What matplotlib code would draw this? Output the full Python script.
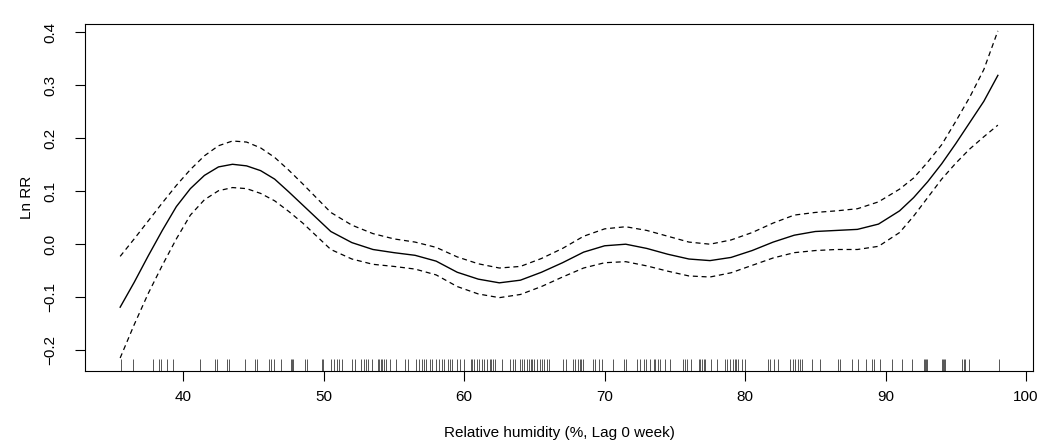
import numpy as np
import matplotlib
matplotlib.use('Agg')
import matplotlib.pyplot as plt

plt.rcParams['font.family'] = ['Liberation Sans', 'DejaVu Sans']

# relative humidity grid and fitted ln RR with 95% CI
rh = [35.5, 36.5, 37.5, 38.5, 39.5, 40.5, 41.5, 42.5, 43.5, 44.5,
      45.5, 46.5, 47.5, 48.5, 49.5, 50.5, 52, 53.5, 55, 56.5,
      58, 59.5, 61, 62.5, 64, 65.5, 67, 68.5, 70, 71.5,
      73, 74.5, 76, 77.5, 79, 80.5, 82, 83.5, 85, 86.5,
      88, 89.5, 91, 92, 93, 94, 95, 96, 97, 98]
ln_rr = [-0.119, -0.072, -0.022, 0.026, 0.071, 0.105, 0.130, 0.146, 0.151, 0.148,
         0.139, 0.123, 0.099, 0.074, 0.049, 0.024, 0.003, -0.010, -0.016, -0.021,
         -0.032, -0.053, -0.066, -0.073, -0.068, -0.053, -0.035, -0.015, -0.003, 0.000,
         -0.008, -0.019, -0.028, -0.031, -0.025, -0.012, 0.004, 0.017, 0.024, 0.026,
         0.028, 0.038, 0.063, 0.088, 0.118, 0.152, 0.190, 0.230, 0.270, 0.319]
upper = [-0.023, 0.010, 0.044, 0.078, 0.111, 0.141, 0.167, 0.186, 0.195, 0.193,
         0.182, 0.164, 0.140, 0.114, 0.087, 0.060, 0.036, 0.020, 0.010, 0.004,
         -0.006, -0.024, -0.037, -0.045, -0.042, -0.027, -0.008, 0.015, 0.029, 0.033,
         0.026, 0.015, 0.004, 0.000, 0.008, 0.022, 0.040, 0.055, 0.060, 0.063,
         0.067, 0.080, 0.104, 0.125, 0.155, 0.188, 0.232, 0.278, 0.330, 0.403]
lower = [-0.215, -0.152, -0.093, -0.040, 0.010, 0.055, 0.084, 0.101, 0.107, 0.105,
         0.096, 0.082, 0.062, 0.040, 0.015, -0.010, -0.028, -0.038, -0.042, -0.047,
         -0.058, -0.080, -0.094, -0.101, -0.095, -0.080, -0.062, -0.045, -0.035, -0.033,
         -0.041, -0.051, -0.060, -0.062, -0.054, -0.040, -0.026, -0.016, -0.012, -0.010,
         -0.010, -0.004, 0.022, 0.053, 0.088, 0.123, 0.153, 0.180, 0.203, 0.225]

# observed relative humidity values (rug)
rug = [35.54, 36.41, 37.86, 38.27, 38.41, 38.86, 39.26, 41.16, 42.25, 42.37,
       43.08, 43.22, 44.41, 45.07, 45.26, 46.07, 46.21, 46.45, 46.95, 47.66,
       47.73, 47.83, 48.66, 48.80,
       49.84, 49.94, 50.53, 50.72, 50.96, 51.10, 51.27, 52.03, 52.22, 52.67,
       52.86, 53.02, 53.16, 53.40, 53.85, 53.95, 54.04, 54.16, 54.28, 54.40,
       54.71, 55.11, 55.75, 55.99, 56.60, 56.77, 56.96, 57.13, 57.29, 57.53,
       57.72, 57.96, 58.19, 58.43, 58.55, 58.83, 58.98, 59.14, 59.50, 59.69,
       59.97, 60.45, 60.57, 60.69, 60.92, 61.04, 61.28, 61.40, 61.63, 61.82,
       61.92, 62.06, 62.16, 62.70, 63.29, 63.44, 63.63, 63.94, 64.08, 64.24,
       64.48, 64.60, 64.72, 64.84, 65.00, 65.19, 65.38, 65.55, 65.71, 65.90, 66.05,
       67.04, 67.28, 67.73, 67.87, 68.09, 68.21, 68.32, 68.44, 69.18, 69.34,
       69.58, 69.82, 70.60, 71.41, 71.55, 72.31, 72.50, 72.78, 72.97, 73.21,
       73.50, 73.61, 73.78, 73.92, 74.33, 74.68, 75.58, 75.70, 75.87, 76.15,
       76.70, 76.82, 76.94, 77.06, 77.17, 77.58, 78.00, 78.60, 78.72, 78.91,
       79.14, 79.26, 79.38, 79.48, 79.78, 80.02, 81.63, 81.80, 82.04, 82.32,
       83.18, 83.41, 83.58, 83.75, 83.89, 84.05, 84.77, 85.31, 86.62, 86.73,
       87.61, 88.02, 88.61, 89.04, 89.15, 89.58, 90.46, 91.17, 91.88, 92.71,
       92.78, 92.88, 92.95, 94.02, 94.09, 94.16, 94.23, 95.44, 95.56, 95.68,
       95.92, 98.05]

fig = plt.figure(figsize=(10.41, 4.44), dpi=100)
ax = fig.add_axes([0.0817, 0.1651, 0.9106, 0.7808])

ax.plot(rh, ln_rr, color='black', lw=1.0)
ax.plot(rh, upper, color='black', lw=0.9, linestyle=(0, (4, 3)))
ax.plot(rh, lower, color='black', lw=0.9, linestyle=(0, (4, 3)))
ax.vlines(rug, 0, 0.035, color='#555555', lw=0.7,
          transform=ax.get_xaxis_transform())

ax.set_xlim(33.0, 100.5)
ax.set_ylim(-0.239, 0.416)
ax.set_xticks([40, 50, 60, 70, 80, 90, 100])
ax.set_yticks([-0.2, -0.1, 0.0, 0.1, 0.2, 0.3, 0.4])
ax.set_yticklabels(['\u22120.2', '\u22120.1', '0.0', '0.1', '0.2', '0.3', '0.4'])
ax.tick_params(axis='both', length=7, width=0.8, labelsize=11, direction='out')
ax.tick_params(axis='x', pad=7)
ax.tick_params(axis='y', pad=13, labelrotation=90)
for lab in ax.get_yticklabels():
    lab.set_va('center')
for s in ax.spines.values():
    s.set_linewidth(0.8)

ax.set_xlabel('Relative humidity (%, Lag 0 week)', fontsize=11, labelpad=16)
ax.set_ylabel('Ln RR', fontsize=11, labelpad=7)

fig.savefig('out.png', dpi=100)
